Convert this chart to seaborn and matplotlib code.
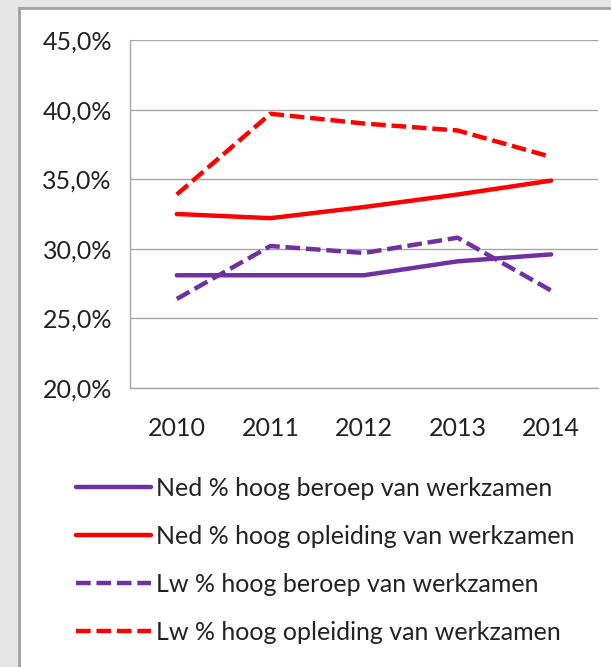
import pandas as pd
import seaborn as sns
import matplotlib.pyplot as plt
from matplotlib.patches import Rectangle
from matplotlib.ticker import FuncFormatter, FixedLocator
from matplotlib.lines import Line2D

# data
years = ["2010", "2011", "2012", "2013", "2014"]
ned_beroep = [28.1, 28.1, 28.1, 29.1, 29.6]
ned_opleiding = [32.5, 32.2, 33.0, 33.9, 34.9]
lw_beroep = [26.4, 30.2, 29.7, 30.8, 27.0]
lw_opleiding = [33.9, 39.7, 39.0, 38.5, 36.6]

labels = ["Ned % hoog beroep van werkzamen",
          "Ned % hoog opleiding van werkzamen",
          "Lw % hoog beroep van werkzamen",
          "Lw % hoog opleiding van werkzamen"]
series = [ned_beroep, ned_opleiding, lw_beroep, lw_opleiding]

rows = []
for lab, vals in zip(labels, series):
    for yr, v in zip(years, vals):
        rows.append({"jaar": yr, "waarde": v, "reeks": lab})
df = pd.DataFrame(rows)

# kleuren
purple = "#7030A0"
red = "#FF0000"
palette = {labels[0]: purple, labels[1]: red, labels[2]: purple, labels[3]: red}
dashes = {labels[0]: "", labels[1]: "", labels[2]: (3.3, 1.3), labels[3]: (3.3, 1.3)}

sns.set_style("white")
plt.rcParams['font.family'] = ['Lato', 'DejaVu Sans']
fs = 18

fig = plt.figure(figsize=(6.11, 6.67), dpi=100)
fig.patch.set_facecolor("#E6E6E6")
# wit paneel met grijze rand
panel = Rectangle((19 / 611, -0.01), 1.0, 1 - 8 / 667 + 0.01, transform=fig.transFigure,
                  facecolor="white", edgecolor="#A0A0A0", linewidth=2.0, zorder=-10)
fig.patches.append(panel)

ax = fig.add_axes([130 / 611, 1 - 388 / 667, (598 - 130) / 611, (388 - 40) / 667])
ax.set_facecolor("none")

sns.lineplot(data=df, x="jaar", y="waarde", hue="reeks", style="reeks",
             palette=palette, dashes=dashes, linewidth=3.2, legend=False, ax=ax,
             sort=False)

ax.set_xlim(-0.5, 4.5)
ax.set_ylim(20, 45)
ax.set_yticks([20, 25, 30, 35, 40, 45])
ax.yaxis.set_major_formatter(FuncFormatter(lambda v, p: f"{v:.1f}%".replace(".", ",")))
ax.grid(axis="y", color="#A6A6A6", linewidth=1.0)
ax.set_axisbelow(True)
ax.set_xlabel("")
ax.set_ylabel("")

# tick marks op de grenzen tussen de jaren
ax.xaxis.set_minor_locator(FixedLocator([-0.5, 0.5, 1.5, 2.5, 3.5, 4.5]))
ax.tick_params(axis="x", which="major", length=0, pad=21, labelsize=fs, colors="#222222")
ax.tick_params(axis="x", which="minor", length=8, width=1.0, color="#A6A6A6", direction="out")
ax.tick_params(axis="y", which="major", length=7, width=1.0, color="#A6A6A6", direction="out",
               pad=6, labelsize=fs, labelcolor="#222222")

for side in ["top", "right"]:
    ax.spines[side].set_visible(False)
for side in ["left", "bottom"]:
    ax.spines[side].set_color("#A6A6A6")
    ax.spines[side].set_linewidth(1.0)

# legenda
handles = [Line2D([], [], color=palette[l], linewidth=3.2,
                  linestyle="-" if dashes[l] == "" else (0, dashes[l])) for l in labels]
fig.legend(handles, labels, loc="upper left", bbox_to_anchor=(53 / 611, 1 - 454 / 667),
           frameon=False, fontsize=fs, handlelength=3.0, handletextpad=0.2,
           labelspacing=1.0, labelcolor="#222222")

plt.savefig("out.png", dpi=100)
